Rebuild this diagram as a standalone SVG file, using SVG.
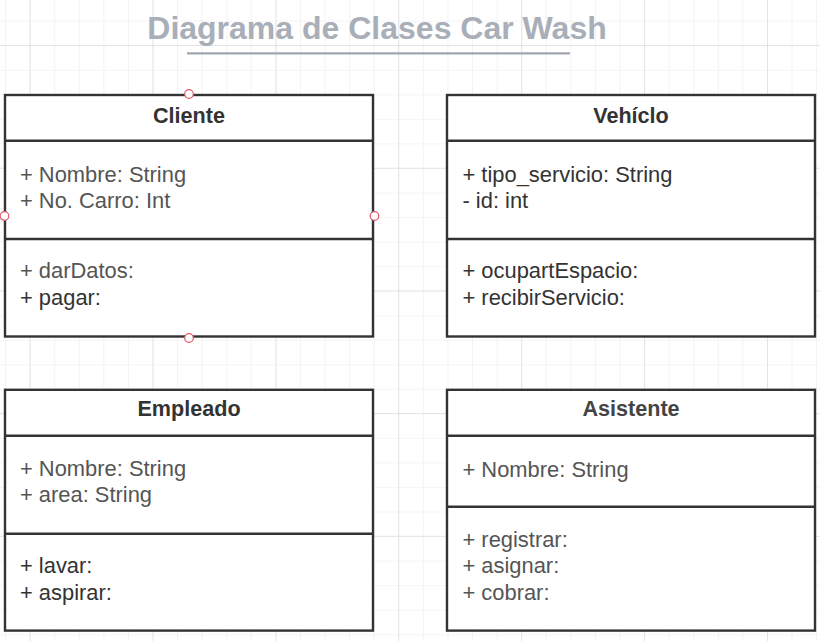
<svg xmlns="http://www.w3.org/2000/svg" width="820" height="641" viewBox="0 0 820 641">
  <defs>
    <pattern id="gridMinor" patternUnits="userSpaceOnUse" x="5" y="20.7" width="24.58" height="24.54">
      <path d="M0 0 V24.54 M0 0 H24.58" fill="none" stroke="#ececec" stroke-width="1.2"/>
    </pattern>
    <pattern id="gridMajor" patternUnits="userSpaceOnUse" x="29.6" y="45" width="122.9" height="122.7">
      <path d="M0 0 V122.7 M0 0 H122.9" fill="none" stroke="#dedede" stroke-width="1.4"/>
    </pattern>
  </defs>
  <style>
    .box { fill: #ffffff; stroke: #333333; stroke-width: 2.4; }
    .div { stroke: #333333; stroke-width: 2.4; fill: none; }
    .hdr { font-family: "Liberation Sans", Arial, sans-serif; font-weight: bold; font-size: 21.6px; text-anchor: middle; fill: #333333; }
    .txt { font-family: "Liberation Sans", Arial, sans-serif; font-size: 21.9px; fill: #333333; }
    .gray { fill: #555555; }
    .title { font-family: "Liberation Sans", Arial, sans-serif; font-weight: bold; font-size: 32px; text-anchor: middle; fill: #a9afb9; }
    .pt { fill: #ffffff; stroke: #e05a6a; stroke-width: 1.2; }
  </style>
  <rect width="820" height="641" fill="#ffffff"/>
  <rect width="820" height="641" fill="url(#gridMinor)"/>
  <rect width="820" height="641" fill="url(#gridMajor)"/>

  <g id="title">
    <text class="title" x="377" y="39">Diagrama de Clases Car Wash</text>
    <line x1="187" y1="53.3" x2="570" y2="53.3" stroke="#a0a6b0" stroke-width="2.2"/>
  </g>

  <g id="connectors"></g>

  <g id="cliente">
    <rect class="box" x="5" y="95" width="368" height="241.5"/>
    <line class="div" x1="5" y1="140.7" x2="373" y2="140.7"/>
    <line class="div" x1="5" y1="239" x2="373" y2="239"/>
    <text class="hdr" x="189" y="122.7">Cliente</text>
    <text class="txt gray" x="20" y="181.7">+ Nombre: String</text>
    <text class="txt gray" x="20" y="208.3">+ No. Carro: Int</text>
    <text class="txt gray" x="20" y="278.3">+ darDatos:</text>
    <text class="txt" x="20" y="305">+ pagar:</text>
    <circle class="pt" cx="189" cy="94" r="4.3"/>
    <circle class="pt" cx="4.5" cy="216" r="4.3"/>
    <circle class="pt" cx="374.5" cy="216" r="4.3"/>
    <circle class="pt" cx="189" cy="338" r="4.3"/>
  </g>

  <g id="vehiculo">
    <rect class="box" x="447" y="95" width="368" height="241.5"/>
    <line class="div" x1="447" y1="140.7" x2="815" y2="140.7"/>
    <line class="div" x1="447" y1="239" x2="815" y2="239"/>
    <text class="hdr" x="631" y="122.7">Vehíclo</text>
    <text class="txt" x="462.5" y="181.7">+ tipo_servicio: String</text>
    <text class="txt" x="462.5" y="208.3">- id: int</text>
    <text class="txt" x="462.5" y="278.3">+ ocupartEspacio:</text>
    <text class="txt" x="462.5" y="305">+ recibirServicio:</text>
  </g>

  <g id="empleado">
    <rect class="box" x="5" y="389.8" width="368" height="240.8"/>
    <line class="div" x1="5" y1="435.7" x2="373" y2="435.7"/>
    <line class="div" x1="5" y1="533.7" x2="373" y2="533.7"/>
    <text class="hdr" x="189" y="416">Empleado</text>
    <text class="txt gray" x="20" y="475.7">+ Nombre: String</text>
    <text class="txt gray" x="20" y="502">+ area: String</text>
    <text class="txt" x="20" y="573.3">+ lavar:</text>
    <text class="txt" x="20" y="600">+ aspirar:</text>
  </g>

  <g id="asistente">
    <rect class="box" x="447" y="389.8" width="368" height="240.8"/>
    <line class="div" x1="447" y1="435.7" x2="815" y2="435.7"/>
    <line class="div" x1="447" y1="506.7" x2="815" y2="506.7"/>
    <text class="hdr" x="631" y="416" style="fill:#444444">Asistente</text>
    <text class="txt gray" x="462.5" y="476.7">+ Nombre: String</text>
    <text class="txt gray" x="462.5" y="547.3">+ registrar:</text>
    <text class="txt gray" x="462.5" y="573.3">+ asignar:</text>
    <text class="txt gray" x="462.5" y="600">+ cobrar:</text>
  </g>
</svg>
